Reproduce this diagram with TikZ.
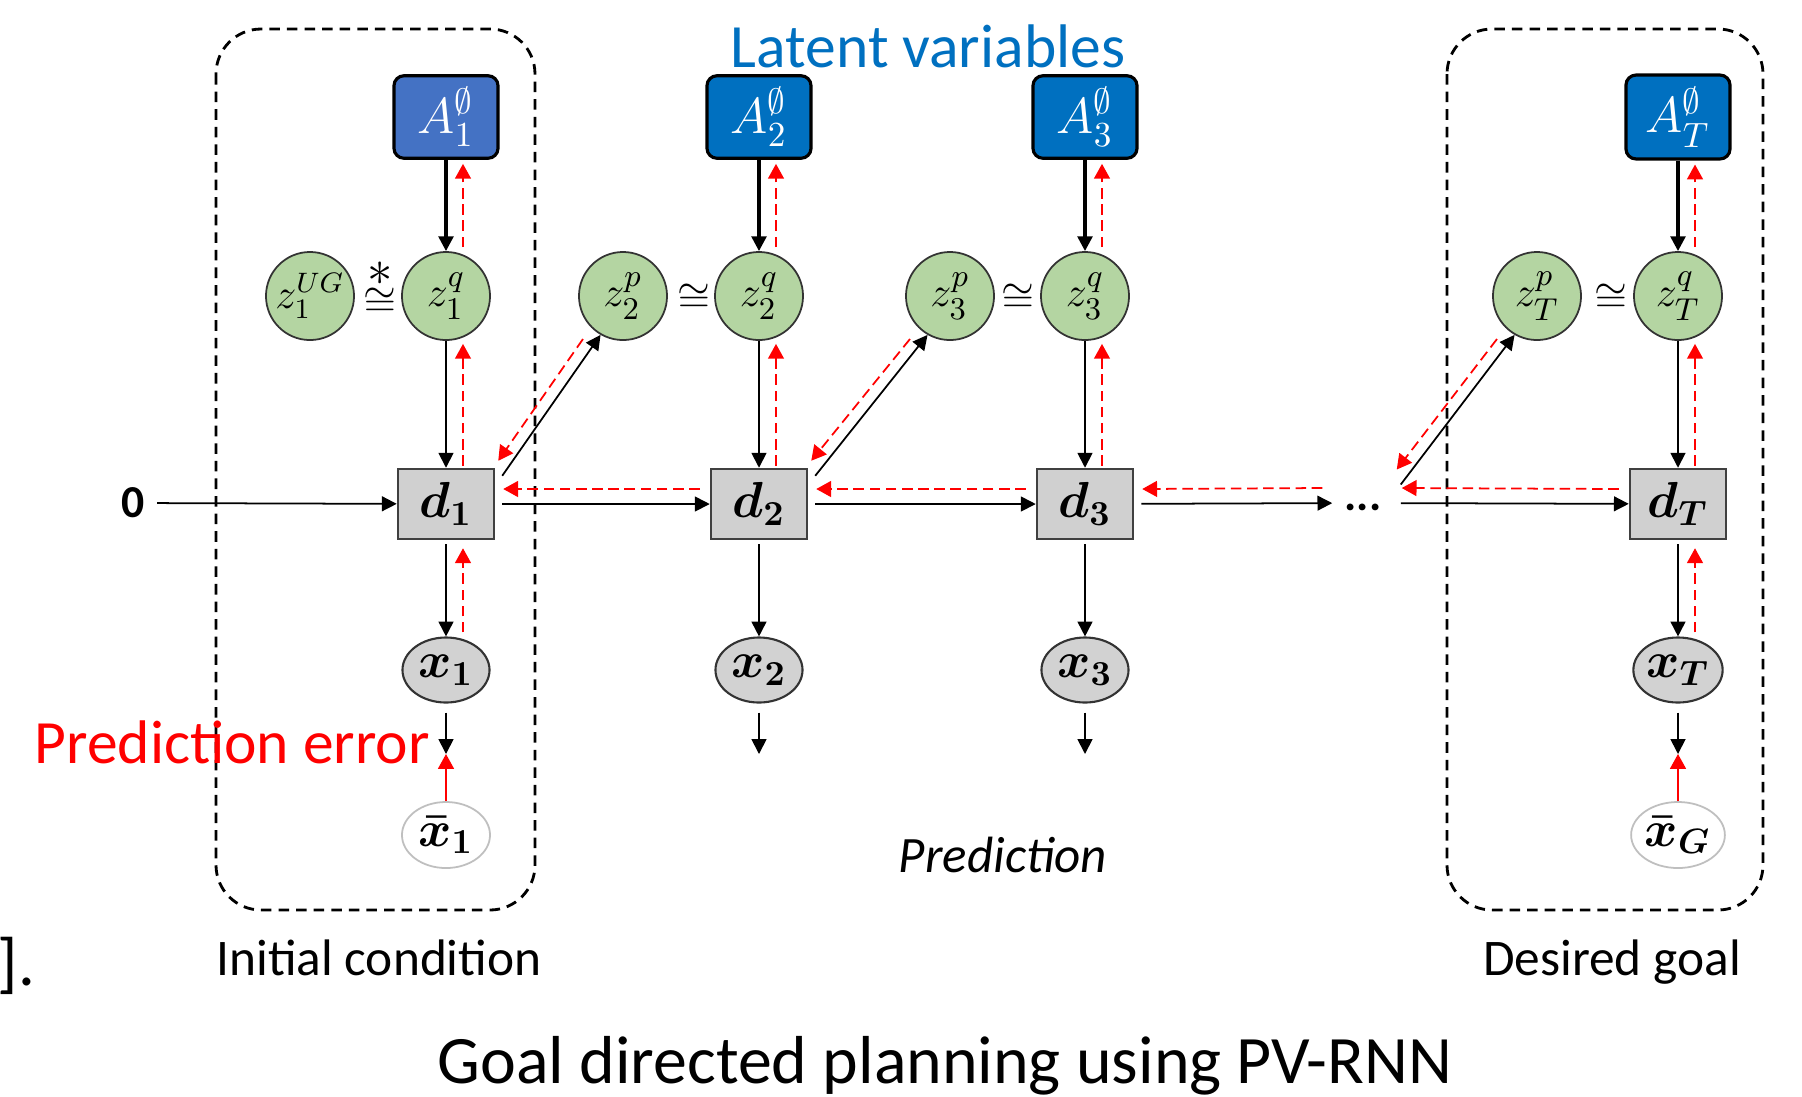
\documentclass[tikz,border=0pt]{standalone}
\usepackage[no-math]{fontspec}
\setmainfont{Carlito}
\usepackage{amsmath}
\usepackage{bm}
\usetikzlibrary{arrows.meta,calc,shapes.geometric}
\definecolor{Aone}{RGB}{68,114,196}
\definecolor{Aall}{RGB}{0,112,192}
\definecolor{zgreen}{RGB}{180,213,162}
\definecolor{dgray}{RGB}{208,208,208}
\definecolor{xgray}{RGB}{210,210,210}
\definecolor{errred}{RGB}{255,0,0}
\newcommand{\fsize}[1]{\fontsize{#1}{#1}\selectfont}
\tikzset{
  latent/.style={draw=black,line width=0.9pt,rounded corners=0.1cm,minimum width=1.04cm,minimum height=0.78cm,text=white,font=\fsize{14}},
  zvar/.style={circle,draw=black!80,line width=0.5pt,fill=zgreen,minimum size=0.88cm,inner sep=0pt,font=\fsize{13}},
  dbox/.style={draw=black!75,line width=0.7pt,fill=dgray,minimum width=0.96cm,minimum height=0.70cm,font=\fsize{14}},
  xvar/.style={ellipse,draw=black!80,line width=0.6pt,fill=xgray,minimum width=0.87cm,minimum height=0.65cm,inner sep=0pt,font=\fsize{14}},
  xgoal/.style={ellipse,draw=black!25,line width=0.5pt,fill=white,minimum width=0.88cm,minimum height=0.66cm,inner sep=0pt,font=\fsize{14}},
  fwd/.style={-{Triangle[length=4.2pt,width=4.2pt]},line width=0.5pt},
  fwdthick/.style={fwd,line width=0.9pt},
  err/.style={-{Triangle[length=4.2pt,width=4.5pt]},errred,line width=0.5pt,dash pattern=on 3pt off 1.6pt},
  errsolid/.style={-{Triangle[length=4.2pt,width=4.5pt]},errred,line width=0.5pt},
  region/.style={draw=black,line width=0.8pt,dash pattern=on 3pt off 2pt,rounded corners=0.45cm},
  caption/.style={font=\fsize{14.6},anchor=base,inner sep=0pt},
  approx/.style={font=\fsize{12},inner sep=0pt},
}

\begin{document}
\begin{tikzpicture}[x=0.01cm,y=-0.01cm]
\fill[white] (0,0) rectangle (1802,1096);
\useasboundingbox (0,0) rectangle (1802,1096);
\draw[region] (216,29) rectangle (535,910);
\draw[region] (1447,29) rectangle (1763,910);

\foreach \k/\cx/\col in {1/446/Aone,2/759/Aall,3/1085/Aall,T/1678/Aall}{
  \node[latent,fill=\col] (A\k) at (\cx,117) {$A_{\k}^{\emptyset}$};
  \node[zvar] (zq\k) at (\cx,296) {$z_{\k}^{q}$};
  \node[dbox] (d\k) at (\cx,504) {$\bm{d_{\k}}$};
  \node[xvar] (x\k) at (\cx,670) {$\bm{x_{\k}}$};
  \coordinate (out\k) at (\cx,754);
  \draw[fwdthick] (A\k) -- (zq\k);
  \draw[err] ($(zq\k.north)+(17,-4)$) -- ($(A\k.south)+(17,4)$);
  \draw[fwd] (zq\k) -- (d\k);
  \draw[err] ($(d\k.north)+(17,-2)$) -- ($(zq\k.south)+(17,3)$);
  \draw[fwd] ($(d\k.south)+(0,4)$) -- (x\k);
  \draw[fwd] ($(x\k.south)+(0,9)$) -- (out\k);
}
\node[xgoal] (xb1) at (446,835) {$\bm{\bar{x}_1}$};
\node[xgoal] (xbT) at (1678,835) {$\bm{\bar{x}_G}$};
\foreach \k in {1,T}{
  \draw[err] ($(x\k.north)+(17,-4)$) -- ($(d\k.south)+(17,8)$);
  \draw[errsolid] (xb\k) -- (out\k);
}

\node[zvar,font=\fsize{11.5}] (zug) at (310,296) {$z_1^{UG}$};
\node[approx] (eq1) at (380,302) {$\cong$};
\node[approx,font=\fsize{15}] (star1) at (380,274) {$\ast$};
\foreach \k/\px/\ex in {2/623/694,3/950/1018,T/1537/1611}{
  \node[zvar] (zp\k) at (\px,296) {$z_{\k}^{p}$};
  \node[approx] (eq\k) at (\ex,298) {$\cong$};
}

\node[font=\bfseries\fsize{13}] (zero) at (133,503) {0};
\node[font=\bfseries\fsize{13},text height=6pt,text depth=2pt,minimum width=0.6cm] (dots) at (1363,503) {...};
\draw[fwd] (zero) -- (d1);
\foreach \a/\b in {d1/d2,d2/d3,d3/dots,dots/dT}{
  \draw[fwd,shorten <=2pt] (\a) -- (\b);
  \draw[err] ($(\b.west)+(-10,-15)$) -- ($(\a.east)+(8,-15)$);
}
\foreach \a/\b in {d1/zp2,d2/zp3,dots/zpT}{
  \draw[fwd] ($(\a.north east)+(7,8)$) -- (\b.240);
  \draw[err] ($(\b.center)+(-40,43)$) -- ($(\a.north east)+(3,-7)$);
}

\node[text=Aall,font=\fsize{17.5}] (latent) at (928,46) {Latent variables};
\node[text=errred,font=\fsize{17.5},anchor=base west,inner sep=0pt] (prederr) at (34,763) {Prediction error};
\node[font=\itshape\fsize{14.5},anchor=base,inner sep=0pt] (pred) at (1003,872) {Prediction};
\node[caption] (init) at (379,975) {Initial condition};
\node[caption] (goal) at (1612,975) {Desired goal};
\node[font=\fsize{19},anchor=base west,inner sep=0pt] (bracket) at (-3,985) {].};
\node[font=\fsize{19.3},anchor=base,inner sep=0pt] (title) at (945,1083) {Goal directed planning using PV-RNN};
\end{tikzpicture}
\end{document}
